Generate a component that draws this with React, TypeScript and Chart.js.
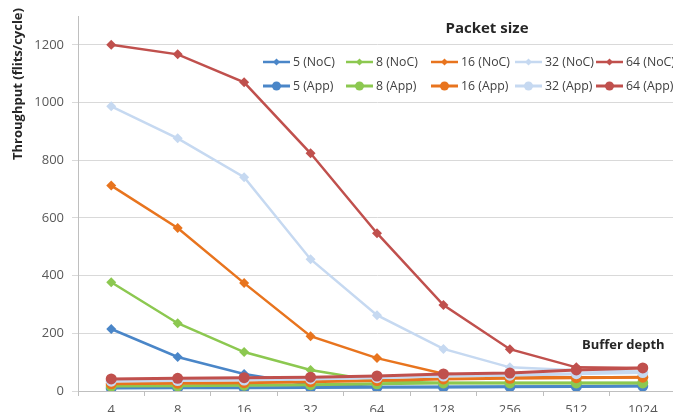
import { useEffect, useRef } from 'react';
import { Chart, registerables } from 'chart.js';

Chart.register(...registerables);

// Buffer depth categories along the x axis
const bufferDepths = ['4', '8', '16', '32', '64', '128', '256', '512', '1024'];

// Packet sizes, one NoC and one App series each
const packetSizes = ['5', '8', '16', '32', '64'];
const seriesColors = ['#4a86c8', '#8cc850', '#e8741e', '#c6d9f1', '#c0504d'];

// Throughput (flits/cycle) measured at the network level
const noc5 = [215, 118, 59, 22, 15, 14, 15, 16, 17];
const noc8 = [377, 235, 135, 73, 35, 28, 28, 28, 28];
const noc16 = [712, 565, 374, 190, 114, 60, 50, 48, 48];
const noc32 = [987, 876, 741, 457, 263, 146, 82, 72, 68];
const noc64 = [1200, 1167, 1070, 824, 547, 298, 145, 82, 80];

// Throughput (flits/cycle) seen by the application
const app5 = [10, 11, 11, 12, 13, 14, 15, 16, 17];
const app8 = [17, 18, 20, 22, 25, 28, 28, 28, 28];
const app16 = [25, 27, 29, 32, 36, 42, 44, 46, 48];
const app32 = [34, 36, 38, 42, 46, 52, 55, 60, 64];
const app64 = [42, 44, 46, 48, 52, 59, 62, 73, 80];

const nocSeries = [noc5, noc8, noc16, noc32, noc64];
const appSeries = [app5, app8, app16, app32, app64];

const yMax = 1300;
const yStep = 200;

const FONT = '"Open Sans", "DejaVu Sans", sans-serif';
const TICK_COLOR = '#595959';

// Column anchors for the two-row legend inside the plot
const legendCols = [263, 346, 431, 515, 596];
const legendRows = [62, 86];
const legendLine = 27;

const overlay = {
  id: 'overlay',
  afterDraw(chart: any) {
    const ctx: CanvasRenderingContext2D = chart.ctx;
    ctx.save();

    // y axis title
    ctx.fillStyle = '#262626';
    ctx.font = `bold 13px ${FONT}`;
    ctx.textAlign = 'center';
    ctx.textBaseline = 'middle';
    ctx.save();
    ctx.translate(18, 84);
    ctx.rotate(-Math.PI / 2);
    ctx.fillText('Throughput (flits/cycle)', 0, 0);
    ctx.restore();

    // legend title and x axis title
    ctx.font = `bold 15px ${FONT}`;
    ctx.fillText('Packet size', 487, 29);
    ctx.font = `bold 13px ${FONT}`;
    ctx.textAlign = 'left';
    ctx.fillText('Buffer depth', 582, 345);

    // legend entries
    ctx.font = `12.3px ${FONT}`;
    chart.data.datasets.forEach((ds: any, i: number) => {
      const row = i < packetSizes.length ? 0 : 1;
      const col = i % packetSizes.length;
      const x0 = legendCols[col];
      const y = legendRows[row];
      ctx.strokeStyle = ds.borderColor;
      ctx.lineWidth = row === 0 ? 2.5 : 3;
      ctx.beginPath();
      ctx.moveTo(x0, y);
      ctx.lineTo(x0 + legendLine, y);
      ctx.stroke();
      ctx.fillStyle = ds.backgroundColor;
      const cx = x0 + legendLine / 2;
      ctx.beginPath();
      if (row === 0) {
        const r = 3.5;
        ctx.moveTo(cx, y - r);
        ctx.lineTo(cx + r, y);
        ctx.lineTo(cx, y + r);
        ctx.lineTo(cx - r, y);
        ctx.closePath();
      } else {
        ctx.arc(cx, y, 4.5, 0, Math.PI * 2);
      }
      ctx.fill();
      ctx.fillStyle = '#404040';
      ctx.textAlign = 'left';
      ctx.fillText(ds.label, x0 + legendLine + 3, y);
    });

    ctx.restore();
  },
};

export default function App() {
  const ref = useRef<HTMLCanvasElement>(null);

  useEffect(() => {
    if (!ref.current) return;
    const datasets: any[] = [];
    packetSizes.forEach((p, i) => {
      datasets.push({
        label: `${p} (NoC)`,
        data: nocSeries[i],
        borderColor: seriesColors[i],
        backgroundColor: seriesColors[i],
        borderWidth: 2.5,
        pointStyle: 'rectRot',
        pointRadius: 5,
        pointBorderWidth: 0,
        tension: 0,
        order: 20 - i,
      });
    });
    packetSizes.forEach((p, i) => {
      datasets.push({
        label: `${p} (App)`,
        data: appSeries[i],
        borderColor: seriesColors[i],
        backgroundColor: seriesColors[i],
        borderWidth: 3,
        pointStyle: 'circle',
        pointRadius: 5.5,
        pointBorderWidth: 0,
        tension: 0,
        order: 10 - i,
      });
    });

    const chart = new Chart(ref.current, {
      type: 'line',
      data: { labels: bufferDepths, datasets },
      options: {
        responsive: false,
        animation: false,
        layout: { padding: { top: 16, right: 24, left: 0, bottom: 0 } },
        plugins: { legend: { display: false }, tooltip: { enabled: false } },
        scales: {
          x: {
            type: 'category',
            offset: true,
            grid: {
              offset: true,
              drawOnChartArea: false,
              drawTicks: true,
              tickLength: 5,
              color: '#bfbfbf',
            },
            border: { color: '#bfbfbf', width: 1 },
            ticks: {
              font: { family: FONT, size: 13 },
              color: TICK_COLOR,
              padding: 6,
              maxRotation: 0,
              autoSkip: false,
            },
            afterFit: (s: any) => {
              s.height = 39;
            },
          },
          y: {
            min: 0,
            max: yMax,
            ticks: {
              stepSize: yStep,
              font: { family: FONT, size: 13 },
              color: TICK_COLOR,
              padding: 8,
              callback: (v: any) => String(v),
            },
            grid: { color: '#d9d9d9', tickLength: 6, drawTicks: true },
            border: { color: '#bfbfbf', width: 1 },
            afterBuildTicks: (s: any) => {
              s.ticks = s.ticks.filter((t: any) => t.value % yStep === 0);
            },
            afterFit: (s: any) => {
              s.width = 78;
            },
          },
        },
      },
      plugins: [overlay],
    });
    return () => chart.destroy();
  }, []);

  return (
    <div
      style={{
        position: 'fixed',
        left: 0,
        top: 0,
        width: 673,
        height: 412,
        overflow: 'hidden',
        background: '#fff',
      }}
    >
      <canvas ref={ref} width={700} height={430} style={{ display: 'block' }} />
    </div>
  );
}
